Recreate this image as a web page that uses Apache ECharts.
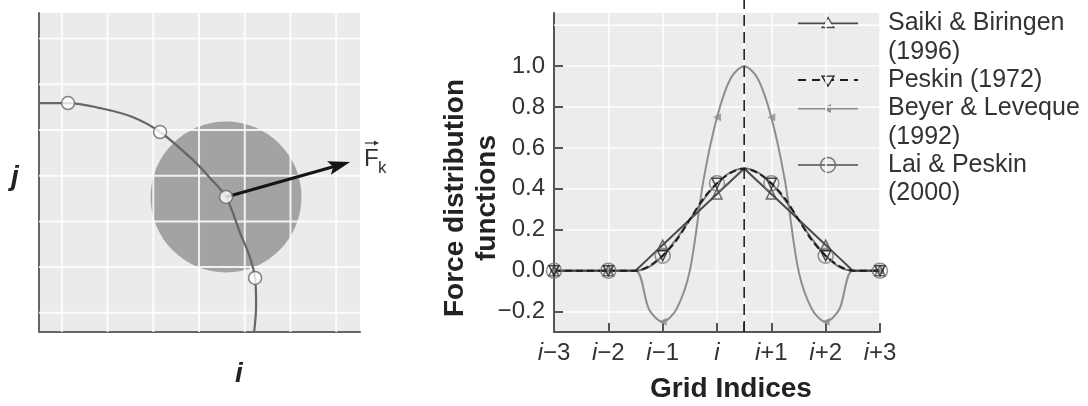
<!DOCTYPE html>
<html>
<head>
<meta charset="utf-8">
<script src="https://cdn.jsdelivr.net/npm/echarts@6/dist/echarts.min.js"></script>
<style>
  html, body { margin: 0; padding: 0; background: #ffffff; }
  #chart { width: 1088px; height: 406px; }
</style>
</head>
<body>
<div id="chart"></div>
<script>
// ---------- Right panel: force distribution functions ----------
// x is the grid index relative to i (0 = i); the kernel is centred at i + 1/2
const gridIndex = [-3, -2, -1, 0, 1, 2, 3];
const gridTickLabels = ['i−3', 'i−2', 'i−1', 'i', 'i+1', 'i+2', 'i+3'];
const xTickValues = [-3, -2, -1, 0, 0.5, 1, 2, 3];
const yTickValues = [-0.2, 0, 0.2, 0.4, 0.6, 0.8, 1.0];
const kernelCentre = 0.5;

const legendLines = [
  ['Saiki & Biringen', '(1996)'],
  ['Peskin (1972)'],
  ['Beyer & Leveque', '(1992)'],
  ['Lai & Peskin', '(2000)']
];

// sampled curves
const curveX      = [-3, -2, -1.5, -1.25, -1, -0.75, -0.5, -0.25, 0, 0.25, 0.5, 0.75, 1, 1.25, 1.5, 1.75, 2, 2.25, 2.5, 3];
const saikiCurve  = [0, 0, 0, 0.0625, 0.125, 0.1875, 0.25, 0.3125, 0.375, 0.4375, 0.5, 0.4375, 0.375, 0.3125, 0.25, 0.1875, 0.125, 0.0625, 0, 0];
const peskinCurve = [0, 0, 0, 0.022, 0.073, 0.147, 0.25, 0.353, 0.427, 0.478, 0.5, 0.478, 0.427, 0.353, 0.25, 0.147, 0.073, 0.022, 0, 0];
const beyerCurve  = [0, 0, 0, -0.19, -0.25, -0.19, 0, 0.44, 0.75, 0.94, 1.0, 0.94, 0.75, 0.44, 0, -0.19, -0.25, -0.19, 0, 0];
const laiCurve    = [0, 0, 0, 0.019, 0.073, 0.154, 0.25, 0.346, 0.427, 0.481, 0.5, 0.481, 0.427, 0.346, 0.25, 0.154, 0.073, 0.019, 0, 0];

// values at the grid nodes
const saikiMarks  = [0, 0, 0.125, 0.375, 0.375, 0.125, 0];
const peskinMarks = [0, 0, 0.073, 0.427, 0.427, 0.073, 0];
const beyerMarks  = [0, 0, -0.25, 0.75, 0.75, -0.25, 0];
const laiMarks    = [0, 0, 0.073, 0.427, 0.427, 0.073, 0];

// ---------- Left panel: immersed boundary on the Eulerian grid ----------
const cellLines = [0, 1, 2, 3, 4, 5, 6];
const boundaryX = [-0.5, 0.135, 0.835, 1.557, 2.148, 2.87, 3.24, 3.59, 3.898, 4.095, 4.226, 4.248, 4.205];
const boundaryY = [4.59, 4.59, 4.48, 4.28, 3.956, 3.34, 2.95, 2.534, 1.746, 1.265, 0.762, 0.171, -0.42];
const nodeX = [0.135, 2.148, 3.59, 4.226];
const nodeY = [4.59, 3.956, 2.534, 0.762];
const pointK = [3.59, 2.534];
const spreadRadius = 1.65;
const forceTip = [6.305, 3.30];

const LX = [-0.5, 6.52], LY = [-0.42, 6.56];
const RX = [-3, 3], RY = [-0.3, 1.26];

const FONT = "'Liberation Sans', Arial, Helvetica, sans-serif";
const C = { saiki: '#4a4a4a', peskin: '#1c1c1c', beyer: '#8e8e8e', lai: '#767676' };

const zip = (xs, ys) => xs.map((x, k) => [x, ys[k]]);
const fmtY = v => {
  const s = Math.abs(v) < 1e-9 ? '0.0' : Math.abs(v).toFixed(1);
  return v < -1e-9 ? '−' + s : s;
};
const fmtX = v => {
  const k = gridIndex.indexOf(Math.round(v));
  if (k < 0 || Math.abs(v - Math.round(v)) > 1e-9) return '';
  return gridTickLabels[k].replace(/^i/, '{it|i}');
};

const chart = echarts.init(document.getElementById('chart'), null, { renderer: 'canvas' });

function cellLineSeries(vertical) {
  return {
    type: 'custom', xAxisIndex: 0, yAxisIndex: 0, z: 2, silent: true,
    data: cellLines.map(v => vertical ? [v, 0] : [0, v]),
    renderItem(params, api) {
      const v = api.value(vertical ? 0 : 1);
      const a = vertical ? api.coord([v, LY[0]]) : api.coord([LX[0], v]);
      const b = vertical ? api.coord([v, LY[1]]) : api.coord([LX[1], v]);
      return { type: 'line', shape: { x1: a[0], y1: a[1], x2: b[0], y2: b[1] },
               style: { stroke: '#ffffff', lineWidth: 2, opacity: 0.85 } };
    }
  };
}

function markerSeries(vals, symbol, size, color, rotate, filled) {
  return {
    type: 'scatter', xAxisIndex: 1, yAxisIndex: 1, z: 6, silent: true,
    data: zip(gridIndex, vals), symbol, symbolSize: size, symbolRotate: rotate || 0,
    itemStyle: filled ? { color } : { color: 'transparent', borderColor: color, borderWidth: 1.5 }
  };
}

// legend samples drawn as graphic elements
const legendStep = 28.3, legendTop = 23.5;
const legendGraphics = [];
let row = 0;
const sampleStyles = [
  { color: C.saiki, dash: null, mark: 'triUp' },
  { color: C.peskin, dash: [8, 6], mark: 'triDown' },
  { color: C.beyer, dash: null, mark: 'triLeft' },
  { color: C.lai, dash: null, mark: 'circle' }
];
legendLines.forEach((lines, e) => {
  const y = legendTop + row * legendStep;
  const st = sampleStyles[e];
  legendGraphics.push({ type: 'line', shape: { x1: 798, y1: y, x2: 858, y2: y },
    style: { stroke: st.color, lineWidth: 2, lineDash: st.dash }, silent: true });
  const cx = 828;
  if (st.mark === 'triUp') {
    legendGraphics.push({ type: 'polygon', shape: { points: [[cx, y - 6], [cx - 6, y + 4], [cx + 6, y + 4]] },
      style: { fill: '#eeeeee', stroke: st.color, lineWidth: 1.3 } });
  } else if (st.mark === 'triDown') {
    legendGraphics.push({ type: 'polygon', shape: { points: [[cx, y + 6], [cx - 6, y - 4], [cx + 6, y - 4]] },
      style: { fill: '#eeeeee', stroke: st.color, lineWidth: 1.3 } });
  } else if (st.mark === 'triLeft') {
    legendGraphics.push({ type: 'polygon', shape: { points: [[cx - 6, y], [cx + 3, y - 4.5], [cx + 3, y + 4.5]] },
      style: { fill: st.color } });
  } else {
    legendGraphics.push({ type: 'circle', shape: { cx, cy: y, r: 7.5 },
      style: { fill: 'transparent', stroke: st.color, lineWidth: 1.5 } });
  }
  lines.forEach(t => {
    const ty = legendTop + row * legendStep;
    legendGraphics.push({ type: 'text', x: 888, y: ty,
      style: { text: t, font: '25px ' + FONT, fill: '#333333', align: 'left', verticalAlign: 'middle',
               textAlign: 'left', textVerticalAlign: 'middle' } });
    row++;
  });
});

const option = {
  backgroundColor: '#ffffff',
  animation: false,
  grid: [
    { left: 39, top: 13, width: 321, height: 319, show: true, backgroundColor: '#ebebeb', borderWidth: 0 },
    { left: 554, top: 13, width: 326, height: 319, show: true, backgroundColor: '#ececec', borderWidth: 0 }
  ],
  xAxis: [
    { type: 'value', gridIndex: 0, min: LX[0], max: LX[1],
      axisLine: { show: true, onZero: false, lineStyle: { color: '#666666', width: 2 } },
      axisTick: { show: false }, axisLabel: { show: false }, splitLine: { show: false } },
    { type: 'value', gridIndex: 1, min: RX[0], max: RX[1],
      axisLine: { show: true, onZero: false, lineStyle: { color: '#555555', width: 2 } },
      axisTick: { show: true, inside: true, length: 9, customValues: xTickValues,
                  lineStyle: { color: '#555555', width: 2 } },
      axisLabel: { show: true, customValues: gridIndex, margin: 9, formatter: fmtX,
                   color: '#333333', fontSize: 24, fontFamily: FONT,
                   rich: { it: { fontStyle: 'italic', fontSize: 24, fontFamily: FONT, color: '#333333' } } },
      splitLine: { show: true, lineStyle: { color: '#ffffff', width: 1.5 } } }
  ],
  yAxis: [
    { type: 'value', gridIndex: 0, min: LY[0], max: LY[1],
      axisLine: { show: true, onZero: false, lineStyle: { color: '#666666', width: 2 } },
      axisTick: { show: false }, axisLabel: { show: false }, splitLine: { show: false } },
    { type: 'value', gridIndex: 1, min: RY[0], max: RY[1],
      axisLine: { show: true, onZero: false, lineStyle: { color: '#555555', width: 2 } },
      axisTick: { show: true, inside: true, length: 9, customValues: yTickValues,
                  lineStyle: { color: '#555555', width: 2 } },
      axisLabel: { show: true, customValues: yTickValues, margin: 9, formatter: fmtY,
                   color: '#333333', fontSize: 24, fontFamily: FONT },
      splitLine: { show: true, lineStyle: { color: '#ffffff', width: 1.5 } } }
  ],
  series: [
    // spreading region around the Lagrangian point k
    { type: 'custom', xAxisIndex: 0, yAxisIndex: 0, z: 1, silent: true,
      data: [[pointK[0], pointK[1], spreadRadius]],
      renderItem(params, api) {
        const c = api.coord([api.value(0), api.value(1)]);
        const r = api.size([api.value(2), 0])[0];
        return { type: 'circle', shape: { cx: c[0], cy: c[1], r }, style: { fill: '#a3a3a3' } };
      } },
    cellLineSeries(true),
    cellLineSeries(false),
    // immersed boundary
    { type: 'line', xAxisIndex: 0, yAxisIndex: 0, z: 3, silent: true,
      data: zip(boundaryX, boundaryY), smooth: 0.35, showSymbol: false, symbol: 'none',
      lineStyle: { color: '#666666', width: 2.2 } },
    // force vector F_k
    { type: 'custom', xAxisIndex: 0, yAxisIndex: 0, z: 4, silent: true,
      data: [[pointK[0], pointK[1], forceTip[0], forceTip[1]]],
      renderItem(params, api) {
        const a = api.coord([api.value(0), api.value(1)]);
        const b = api.coord([api.value(2), api.value(3)]);
        const dx = b[0] - a[0], dy = b[1] - a[1], len = Math.hypot(dx, dy);
        const ux = dx / len, uy = dy / len;
        const headL = 22, headW = 7;
        const base = [b[0] - ux * headL, b[1] - uy * headL];
        const notch = [b[0] - ux * headL * 0.8, b[1] - uy * headL * 0.8];
        return { type: 'group', children: [
          { type: 'line', shape: { x1: a[0], y1: a[1], x2: notch[0], y2: notch[1] },
            style: { stroke: '#151515', lineWidth: 3 } },
          { type: 'polygon', shape: { points: [b, [base[0] - uy * headW, base[1] + ux * headW], notch,
                                               [base[0] + uy * headW, base[1] - ux * headW]] },
            style: { fill: '#151515' } }
        ] };
      } },
    // Lagrangian points
    { type: 'scatter', xAxisIndex: 0, yAxisIndex: 0, z: 6, silent: true,
      data: zip(nodeX, nodeY), symbol: 'circle', symbolSize: 13,
      itemStyle: { color: '#ffffff', borderColor: '#666666', borderWidth: 1.5 } },

    // ---- right panel ----
    { type: 'line', xAxisIndex: 1, yAxisIndex: 1, z: 1, silent: true, symbol: 'none',
      data: [[RX[0], 1.2], [RX[1], 1.2]], lineStyle: { color: '#ffffff', width: 1.5 } },
    { name: 'Beyer & Leveque (1992)', type: 'line', xAxisIndex: 1, yAxisIndex: 1, z: 3,
      data: zip(curveX, beyerCurve), smooth: 0.3, showSymbol: false, symbol: 'none',
      lineStyle: { color: C.beyer, width: 2 } },
    { name: 'Lai & Peskin (2000)', type: 'line', xAxisIndex: 1, yAxisIndex: 1, z: 3,
      data: zip(curveX, laiCurve), smooth: 0.3, showSymbol: false, symbol: 'none',
      lineStyle: { color: C.lai, width: 2 } },
    { name: 'Saiki & Biringen (1996)', type: 'line', xAxisIndex: 1, yAxisIndex: 1, z: 4,
      data: zip(curveX, saikiCurve), smooth: false, showSymbol: false, symbol: 'none',
      lineStyle: { color: C.saiki, width: 2 } },
    { name: 'Peskin (1972)', type: 'line', xAxisIndex: 1, yAxisIndex: 1, z: 5,
      data: zip(curveX, peskinCurve), smooth: 0.3, showSymbol: false, symbol: 'none',
      lineStyle: { color: C.peskin, width: 2, type: [7, 4] } },
    // kernel centre x_k = i + 1/2
    { type: 'line', xAxisIndex: 1, yAxisIndex: 1, z: 5, silent: true, clip: false, symbol: 'none',
      data: [[kernelCentre, RY[0]], [kernelCentre, 1.325]],
      lineStyle: { color: '#222222', width: 1.6, type: [11, 6] } },
    markerSeries(beyerMarks, 'triangle', 8, C.beyer, 90, true),
    markerSeries(laiMarks, 'circle', 15, C.lai, 0, false),
    markerSeries(saikiMarks, 'triangle', 10, C.saiki, 0, false),
    markerSeries(peskinMarks, 'triangle', 10, C.peskin, 180, false)
  ],
  graphic: [
    { type: 'text', x: 15, y: 177, style: { text: 'j', font: 'italic bold 28px ' + FONT, fill: '#222222',
        align: 'center', verticalAlign: 'middle', textAlign: 'center', textVerticalAlign: 'middle' } },
    { type: 'text', x: 239, y: 374, style: { text: 'i', font: 'italic bold 28px ' + FONT, fill: '#222222',
        align: 'center', verticalAlign: 'middle', textAlign: 'center', textVerticalAlign: 'middle' } },
    { type: 'text', x: 211, y: 211, style: { text: 'k', font: 'italic 21px ' + FONT, fill: '#222222',
        align: 'center', verticalAlign: 'middle', textAlign: 'center', textVerticalAlign: 'middle' } },
    { type: 'text', x: 364, y: 159, style: { text: 'F', font: '24px ' + FONT, fill: '#333333',
        align: 'left', verticalAlign: 'middle', textAlign: 'left', textVerticalAlign: 'middle' } },
    { type: 'text', x: 378, y: 168, style: { text: 'k', font: '17px ' + FONT, fill: '#333333',
        align: 'left', verticalAlign: 'middle', textAlign: 'left', textVerticalAlign: 'middle' } },
    { type: 'line', shape: { x1: 365, y1: 143, x2: 377, y2: 143 }, style: { stroke: '#333333', lineWidth: 1.2 } },
    { type: 'polygon', shape: { points: [[379, 143], [374, 140.5], [374, 145.5]] }, style: { fill: '#333333' } },
    { type: 'text', x: 471, y: 198, rotation: Math.PI / 2,
      style: { text: 'Force distribution\nfunctions', font: 'bold 28px ' + FONT, fill: '#222222', lineHeight: 32,
               align: 'center', verticalAlign: 'middle', textAlign: 'center', textVerticalAlign: 'middle' } },
    { type: 'text', x: 731, y: 389, style: { text: 'Grid Indices', font: 'bold 28px ' + FONT, fill: '#222222',
        align: 'center', verticalAlign: 'middle', textAlign: 'center', textVerticalAlign: 'middle' } }
  ].concat(legendGraphics)
};

chart.setOption(option);
</script>
</body>
</html>
